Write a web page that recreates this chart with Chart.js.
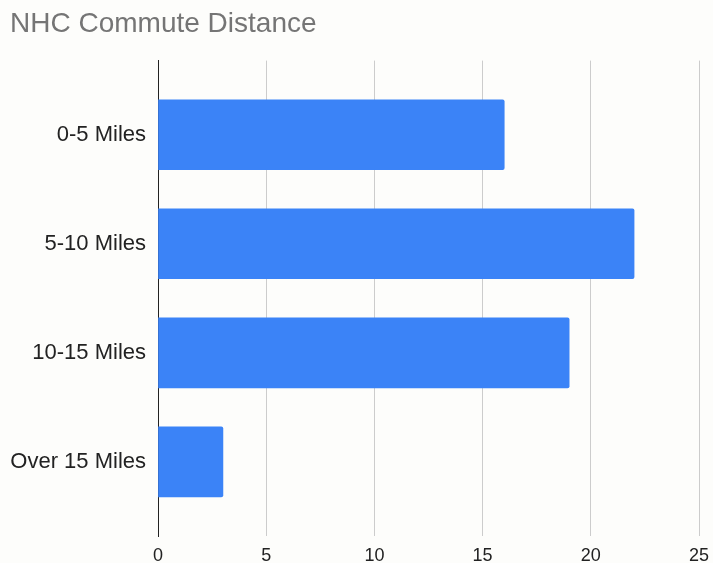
<!DOCTYPE html>
<html>
<head>
    <meta charset="UTF-8">
    <title>NHC Commute Distance</title>
    <script src="https://cdn.jsdelivr.net/npm/chart.js"></script>
    <style>
        body { margin: 0; background: #fdfdfb; }
    </style>
</head>
<body>
    <canvas id="chart" width="713" height="563"></canvas>

    <script>
        // data
        const categories = ['0-5 Miles', '5-10 Miles', '10-15 Miles', 'Over 15 Miles'];
        const counts = [16, 22, 19, 3];
        const xTicks = [0, 5, 10, 15, 20, 25];

        Chart.defaults.font.family = "'Liberation Sans', Arial, sans-serif";

        // linear index axis so the grid can run past the first and last bars
        const points = counts.map((v, i) => ({ x: v, y: i }));

        const ctx = document.getElementById('chart').getContext('2d');
        new Chart(ctx, {
            type: 'bar',
            data: {
                datasets: [{
                    label: 'Count',
                    data: points,
                    backgroundColor: '#3b83f7',
                    barThickness: 70,
                    borderRadius: 2,
                    borderSkipped: 'left'
                }]
            },
            options: {
                responsive: false,
                animation: false,
                indexAxis: 'y',
                layout: { padding: { left: 10, right: 14, top: 0, bottom: 0 } },
                plugins: {
                    legend: { display: false },
                    tooltip: { enabled: false },
                    title: {
                        display: true,
                        text: 'NHC Commute Distance',
                        align: 'start',
                        color: '#757575',
                        font: { size: 28, weight: 'normal' },
                        padding: { top: 7, bottom: 20 }
                    }
                },
                scales: {
                    x: {
                        type: 'linear',
                        min: xTicks[0],
                        max: xTicks[xTicks.length - 1],
                        afterBuildTicks: s => { s.ticks = xTicks.map(v => ({ value: v })); },
                        afterFit: s => { s.height = 27; s.paddingRight = 0; },
                        grid: { color: '#cccccc', drawTicks: false },
                        border: { display: false },
                        ticks: { color: '#222', font: { size: 18 }, padding: 9 }
                    },
                    y: {
                        type: 'linear',
                        reverse: true,
                        offset: false,
                        min: -0.68,
                        max: categories.length - 1 + 0.68,
                        afterBuildTicks: s => { s.ticks = categories.map((c, i) => ({ value: i })); },
                        afterFit: s => { s.width = 148; },
                        grid: { display: false, drawTicks: false },
                        border: { display: true, color: '#222', width: 1 },
                        ticks: {
                            color: '#222',
                            font: { size: 22 },
                            padding: 12,
                            autoSkip: false,
                            callback: v => categories[v]
                        }
                    }
                }
            }
        });
    </script>
</body>
</html>
